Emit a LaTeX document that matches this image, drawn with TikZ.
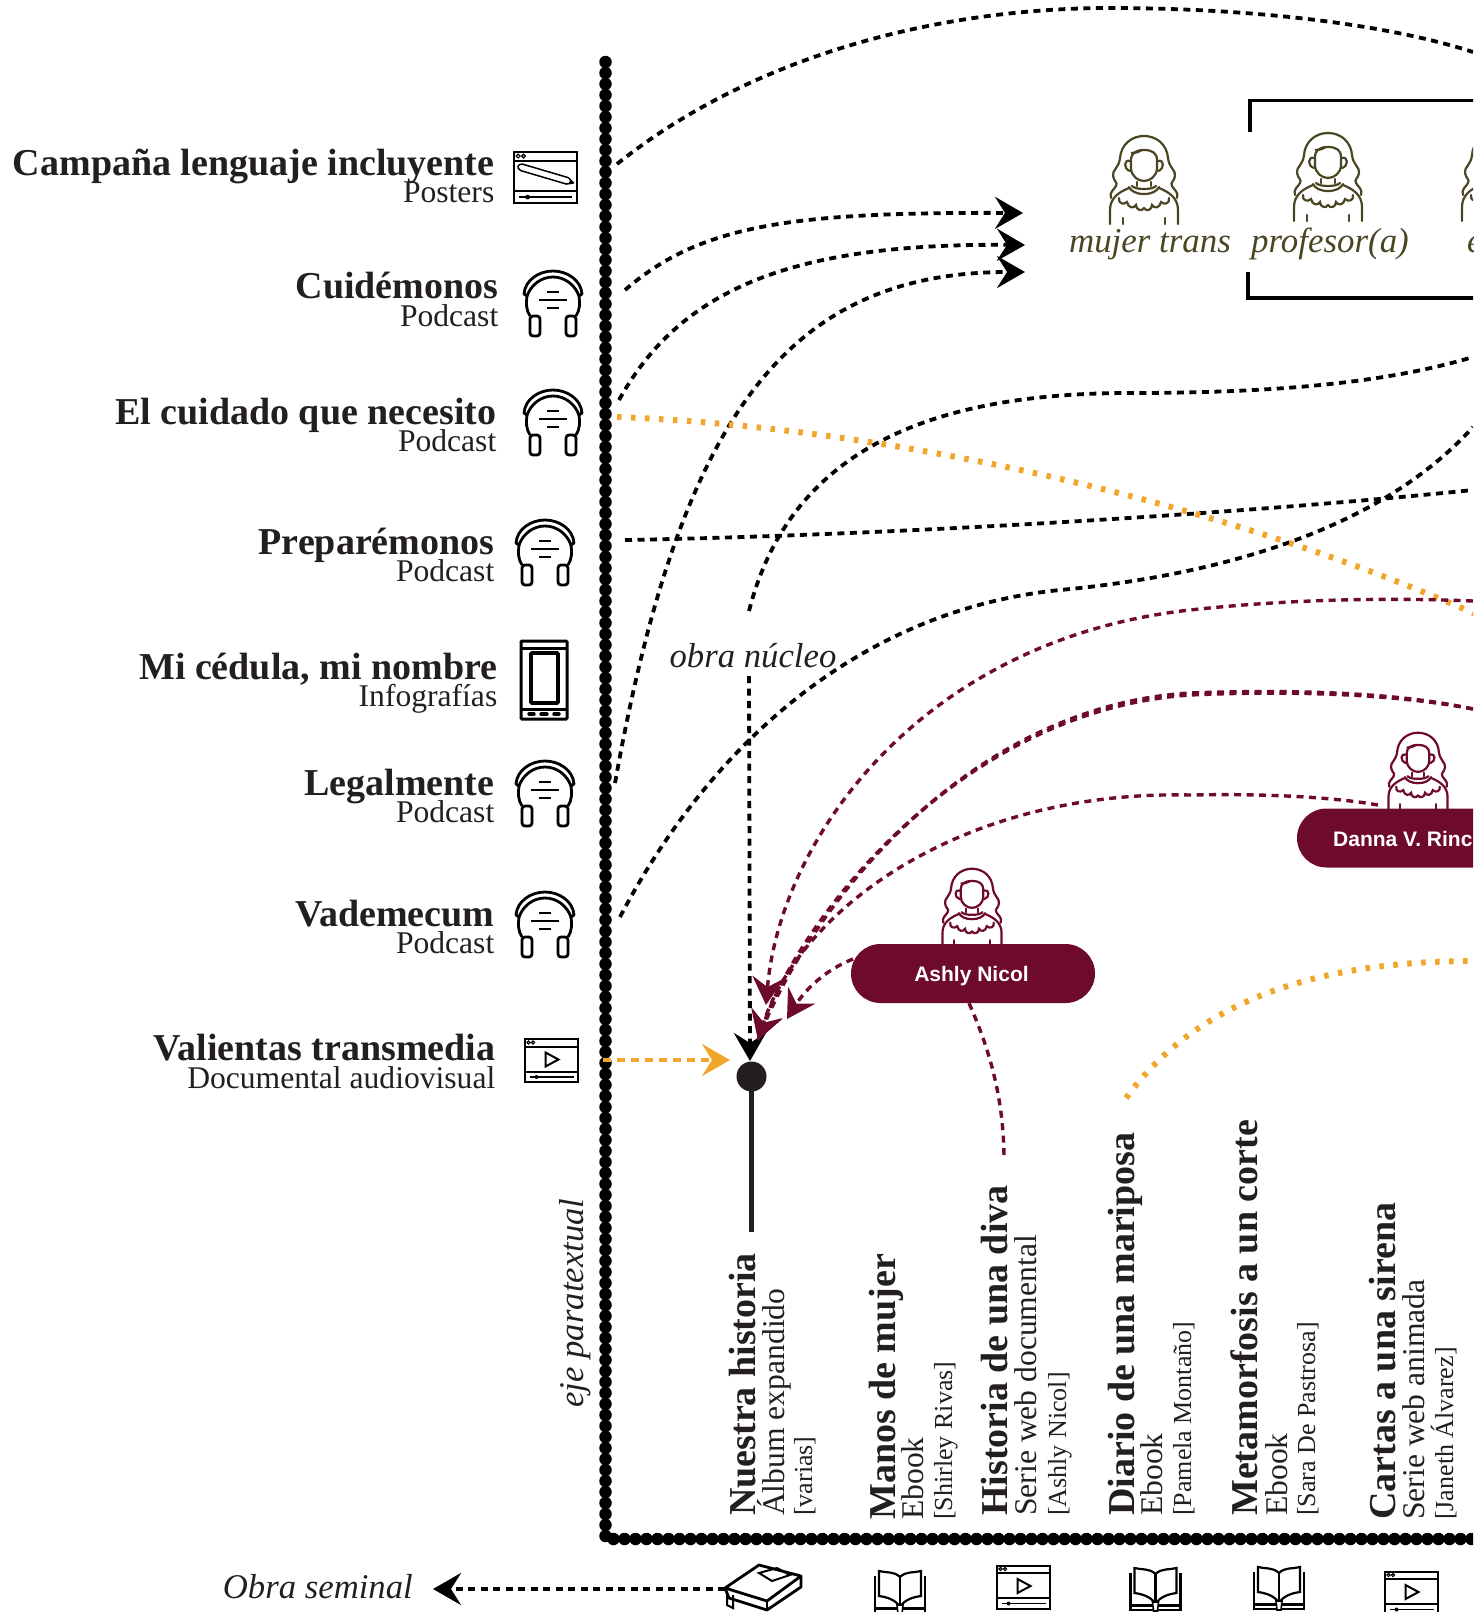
\documentclass[tikz,border=0pt]{standalone}
\usepackage{fontspec}
\setmainfont{Liberation Serif}
\setsansfont{Liberation Sans}
\usetikzlibrary{arrows.meta, calc, positioning, shapes.misc}

\definecolor{vino}{HTML}{6D0A2E}
\definecolor{naranja}{HTML}{F2A52B}
\definecolor{olivo}{HTML}{4A4522}
\definecolor{tinta}{HTML}{231F20}

\newcommand{\ventanabase}{
  \draw[black, line width=2pt] (-26.5,-21.5) rectangle (26.5,21.5);
  \draw[black, line width=2pt] (-26.5,-14) -- (26.5,-14) (-26.5,11) -- (26.5,11);
  \draw[black, line width=1.2pt] (-23,-18) circle (1.6pt) (-18.5,-18) circle (1.6pt);
  \draw[black, line width=1.6pt] (-22,16.5) -- (22,16.5);
  \fill[black] (-15,16.5) circle (2pt);
}

\tikzset{
  flecha/.style={-{Stealth[length=28pt,width=32pt,inset=10pt]}},
  punteado/.style={black, line width=3.8pt, dash pattern=on 7pt off 5.5pt},
  puntvino/.style={vino, line width=3.4pt, dash pattern=on 7pt off 5.5pt},
  puntnaranja/.style={naranja, line width=6pt, dash pattern=on 4.5pt off 9.5pt},
  eje/.style={black, line width=12.5pt, line cap=round, dash pattern=on 0pt off 11pt},
  pill/.style={rounded rectangle, fill=vino, minimum width=244pt, minimum height=59pt, inner sep=0pt},
  pilltxt/.style={text=white, font=\sffamily\bfseries\fontsize{21}{21}\selectfont},
  titulo/.style={anchor=base east, inner sep=0pt, text=tinta, font=\bfseries\fontsize{38}{38}\selectfont},
  formato/.style={anchor=base east, inner sep=0pt, text=tinta, font=\fontsize{31.6}{32}\selectfont},
  vtitulo/.style={rotate=90, anchor=base west, inner sep=0pt, text=tinta, font=\bfseries\fontsize{38}{38}\selectfont},
  vformato/.style={rotate=90, anchor=base west, inner sep=0pt, text=tinta, font=\fontsize{31.6}{32}\selectfont},
  vautor/.style={rotate=90, anchor=base west, inner sep=0pt, text=tinta, font=\fontsize{26}{26}\selectfont},
  nota/.style={inner sep=0pt, text=tinta, font=\itshape\fontsize{34.7}{35}\selectfont},
  rol/.style={inner sep=0pt, text=olivo, font=\itshape\fontsize{34.9}{35}\selectfont},
  % Icons
  audifonos/.pic={
    \draw[black, line width=2.8pt, line join=round] (-29,-9) .. controls (-28,-23) and (-14,-32) .. (0,-32) .. controls (14,-32) and (28,-23) .. (29,-9) -- (26,-7) .. controls (22,-18) and (12,-26) .. (0,-26) .. controls (-12,-26) and (-22,-18) .. (-26,-7) -- cycle;
    \draw[black, line width=2.8pt] (-26,-7) .. controls (-27,0) and (-27,7) .. (-23,13);
    \draw[black, line width=2.8pt] (26,-7) .. controls (27,0) and (27,7) .. (23,13);
    \draw[black, line width=2.8pt, rounded corners=3pt] (-23,13) rectangle (-13,33);
    \draw[black, line width=2.8pt, rounded corners=3pt] (13,13) rectangle (23,33);
    \draw[black, line width=2.8pt] (-6,-11) -- (6,-11) (-14,-3) -- (14,-3) (-6,5) -- (6,5);
  },
  videoicono/.pic={
    \ventanabase
    \draw[black, line width=2pt, line join=miter] (-6,-8) -- (7,-1) -- (-6,6) -- cycle;
  },
  posticono/.pic={
    \ventanabase
    \draw[black, line width=1.5pt, line join=round] (-19.2,-11.2) -- (19.1,0.1) -- (23.5,4.6) -- (17.5,5.5) -- (-20.8,-5.8) .. controls (-25,-8) and (-23,-12) .. (-19.2,-11.2);
    \fill[black] (20.5,2.5) -- (23.5,4.6) -- (19.5,5.2) -- cycle;
  },
  tableta/.pic={
    \draw[black, line width=3pt, rounded corners=1pt] (-23,-39) rectangle (23,39);
    \draw[black, line width=3pt] (-23,-32) -- (23,-32) (-23,29) -- (23,29);
    \draw[black, line width=3.6pt, rounded corners=1pt] (-13,-27) rectangle (14,23);
    \draw[black, line width=3.4pt, line cap=round] (-15,34) -- (-10,34) (-3,34) -- (3,34) (10,34) -- (15,34);
  },
  libroabierto/.pic={
    \draw[black, line width=2.2pt] (-25,-16) -- (-25,21) -- (25,21) -- (25,-16);
    \draw[black, line width=2.2pt, fill=white] (0,-15) .. controls (-6,-21) and (-14,-19) .. (-21,-21) -- (-21,4) .. controls (-13,5) and (-4,8) .. (0,15) .. controls (4,8) and (13,5) .. (21,4) -- (21,-21) .. controls (14,-19) and (6,-21) .. (0,-15) -- cycle;
    \draw[black, line width=2.2pt] (0,-15) -- (0,15);
    \draw[black, line width=3pt] (-25,16) -- (25,16);
    \draw[black, line width=1.6pt, fill=white] (-3,13) -- (3,13) -- (2,22) -- (-2,22) -- cycle;
  },
  librocerrado/.pic={
    \draw[black, line width=2.8pt, line join=round] (-38,1) -- (-4,-22) -- (38,-11) -- (4,14) -- cycle;
    \draw[black, line width=2.8pt, line join=round] (-38,1) -- (-34,11) -- (4,23) -- (38,0) -- (38,-11);
    \draw[black, line width=2.8pt] (4,14) -- (4,23);
    \draw[black, line width=2pt] (-4,-14) -- (14,-19) -- (27,-12) -- (9,-6) -- cycle;
    \draw[black, line width=2pt] (-36,6) -- (-36,18) -- (-30,21) -- (-30,8);
  },
  persona/.pic={
    \foreach \s in {1,-1}{
      \begin{scope}[xscale=\s, line width=2.2pt, line cap=round]
        \draw (0,-44) .. controls (13,-44) and (23,-35) .. (24,-22) .. controls (25,-12) and (32,-10) .. (31,-4) .. controls (30,2) and (26,2) .. (28,6) .. controls (30,10) and (35,12) .. (33,18);
        \draw (0,-30) .. controls (8,-30) and (13,-27) .. (13,-20) -- (13,-12) .. controls (13,-4) and (6,1) .. (0,1);
        \draw (14,-19) .. controls (20,-21) and (21,-11) .. (14,-9);
        \draw (7,2) -- (7,6);
        \draw (0,14) .. controls (8,14) and (13,11) .. (15,7);
        \draw (0,9) .. controls (6,9) and (10,8) .. (12,6);
        \draw (15,8) .. controls (25,12) and (34,18) .. (34,30) -- (34,44);
        \draw (25,18) .. controls (26,24) and (20,25) .. (17,22) .. controls (16,28) and (10,29) .. (8,25) .. controls (8,30) and (2,32) .. (0,28);
        \draw (21,38) -- (21,44);
      \end{scope}
    }
    \draw[line width=2.2pt] (-13,-27) .. controls (-8,-27) and (-5,-28) .. (-2,-30);
  }
}

\begin{document}
\begin{tikzpicture}[x=1pt, y=-1pt]
\useasboundingbox (0,0) rectangle (1473,1612);
\clip (0,0) rectangle (1473,1612);

% Axes
\coordinate (ejetop) at (605.5,62);
\coordinate (ejecorner) at (605.5,1539);
\coordinate (ejeend) at (1479,1539);
\draw[eje] (ejetop) -- (ejecorner) -- (ejeend);
\node[nota, rotate=90] (ejepara) at (575,1303) {eje paratextual};

% Left labels
\foreach \nom/\x/\yt/\ys/\tit/\sub in {
  campana/494.5/175/202/{Campaña lenguaje incluyente}/Posters,
  cuidemonos/498.5/298/326/Cuidémonos/Podcast,
  cuidado/496.5/424/451/{El cuidado que necesito}/Podcast,
  preparemonos/494.5/554/581/Preparémonos/Podcast,
  cedula/497.5/679/706/{Mi cédula, mi nombre}/Infografías,
  legalmente/494.5/795/822/Legalmente/Podcast,
  vademecum/494.5/926/953/Vademecum/Podcast,
  valientas/495.5/1060/1088/{Valientas transmedia}/{Documental audiovisual}} {
  \node[titulo] (tit\nom) at (\x,\yt) {\tit};
  \node[formato] (sub\nom) at (\x,\ys) {\sub};
}

% Left icons
\pic[scale=1.19] at (545.5,177.5) {posticono};
\pic at (553,303) {audifonos};
\pic at (553,422) {audifonos};
\pic at (545,552) {audifonos};
\pic at (544,680) {tableta};
\pic at (545,793) {audifonos};
\pic at (545,924) {audifonos};
\pic at (551.5,1060.5) {videoicono};

% Works along the bottom
\foreach \nom/\xa/\xb/\xc/\yb/\tit/\sub/\aut in {
  nuestra/755/784/812/1516/{Nuestra historia}/{Álbum expandido}/{[varias]},
  manos/895/923/952/1520/{Manos de mujer}/Ebook/{[Shirley Rivas]},
  diva/1007/1036/1066/1516/{Historia de una diva}/{Serie web documental}/{[Ashly Nicol]},
  diario/1134/1162/1191/1516/{Diario de una mariposa}/Ebook/{[Pamela Montaño]},
  metamorfosis/1257/1287/1315/1516/{Metamorfosis a un corte}/Ebook/{[Sara De Pastrosa]},
  cartas/1395/1424/1453/1520/{Cartas a una sirena}/{Serie web animada}/{[Janeth Álvarez]}} {
  \node[vtitulo] (tit\nom) at (\xa,\yb) {\tit};
  \node[vformato] (sub\nom) at (\xb,\yb) {\sub};
  \node[vautor] (aut\nom) at (\xc,\yb) {\aut};
}

% Bottom icons
\pic at (763,1587) {librocerrado};
\pic at (900,1592) {libroabierto};
\pic at (1023.5,1587) {videoicono};
\pic at (1155.5,1589) {libroabierto};
\pic at (1279,1588) {libroabierto};
\pic at (1411.5,1593) {videoicono};

% Roles
\pic[olivo] at (1144,180) {persona};
\pic[olivo] at (1328,177) {persona};
\pic[olivo] at (1496,177) {persona};
\node[rol, anchor=base] (mujertrans) at (1150,252) {mujer trans};
\node[rol, anchor=base] (profesor) at (1330,252) {profesor(a)};
\node[rol, anchor=base west] (rolotro) at (1467,252) {e};
\draw[black, line width=3.3pt] (1250,132) -- (1250,100.5) -- (1480,100.5);
\draw[black, line width=3.3pt] (1248,272) -- (1248,298) -- (1480,298);

% Authors
\pic[vino, scale=.87] at (972,907) {persona};
\node[pill] (ashly) at (973,973.5) {};
\node[pilltxt] (ashlytxt) at (971.5,976) {Ashly Nicol};
\pic[vino, scale=.87] at (1418,771) {persona};
\node[pill] (danna) at (1419,838) {};
\node[pilltxt, anchor=base west, inner sep=0pt] (dannatxt) at (1333,846) {Danna V. Rinc};

% Nucleus
\node[circle, fill=tinta, inner sep=0pt, minimum size=30pt] (nucleo) at (751.5,1076.5) {};
\coordinate (nucleobase) at (751.5,1232);
\draw[tinta, line width=5pt] (nucleo.center) -- (nucleobase);
\node[nota, anchor=center] (obranucleo) at (753,656) {obra núcleo};
\coordinate (nucleotip) at (750,1061);
\coordinate (nucleosal) at (749,676);
\draw[punteado, flecha] (nucleosal) -- (nucleotip);

% Seminal work
\node[nota, anchor=base east] (seminal) at (413,1598) {Obra seminal};
\coordinate (seminalsal) at (725,1589);
\coordinate (seminaltip) at (433,1589);
\draw[punteado, flecha] (seminalsal) -- (seminaltip);

% Black links
\coordinate (tipa) at (1023,213);
\coordinate (tipb) at (1025,245);
\coordinate (tipc) at (1025,272);
\draw[punteado] (617,164) .. controls (760,50) and (950,8) .. (1110,8) .. controls (1240,8) and (1380,22) .. (1473,52);
\draw[punteado, flecha] (625,290) .. controls (700,225) and (790,212) .. (tipa);
\draw[punteado, flecha] (619,400) .. controls (680,290) and (790,243) .. (tipb);
\draw[punteado, flecha] (615,783) .. controls (680,420) and (785,272) .. (tipc);
\draw[punteado] (749,611) .. controls (790,450) and (930,393) .. (1130,393) .. controls (1260,393) and (1380,385) .. (1473,357);
\draw[punteado] (625,540) .. controls (900,535) and (1250,513) .. (1473,490);
\draw[punteado] (620,917) .. controls (710,745) and (860,610) .. (1060,590) .. controls (1220,575) and (1380,530) .. (1473,427);

% Orange links
\coordinate (valientasal) at (603,1060);
\coordinate (valientatip) at (730,1060);
\draw[naranja, line width=3.4pt, dash pattern=on 8pt off 6pt, flecha] (valientasal) -- (valientatip);
\draw[puntnaranja] (617,417) .. controls (900,428) and (1230,505) .. (1480,616);
\draw[puntnaranja] (1126,1098) .. controls (1190,1010) and (1300,960) .. (1480,961);

% Crimson links
\coordinate (tipvino) at (766,1005);
\coordinate (tipvinob) at (758,1040);
\coordinate (tipashly) at (787,1019);
\draw[puntvino, flecha] (1473,601) .. controls (1400,598) and (1300,598) .. (1190,610) .. controls (920,640) and (780,840) .. (tipvino);
\draw[puntvino, flecha] (1473,709) .. controls (1400,695) and (1300,690) .. (1190,695) .. controls (960,710) and (800,920) .. (tipvinob);
\draw[puntvino] (1473,709) .. controls (1400,693) and (1300,689) .. (1190,693) .. controls (965,706) and (806,912) .. (tipvinob);
\draw[puntvino, flecha] (1378,805) .. controls (1350,800) and (1290,793) .. (1190,795) .. controls (960,790) and (800,910) .. (tipvinob);
\draw[puntvino, flecha] (853,959) .. controls (825,970) and (805,990) .. (tipashly);
\coordinate (divatop) at (1004,1160);
\draw[puntvino] (ashly.south) ++(-4,0) .. controls (990,1050) and (1004,1100) .. (divatop);
\end{tikzpicture}
\end{document}
